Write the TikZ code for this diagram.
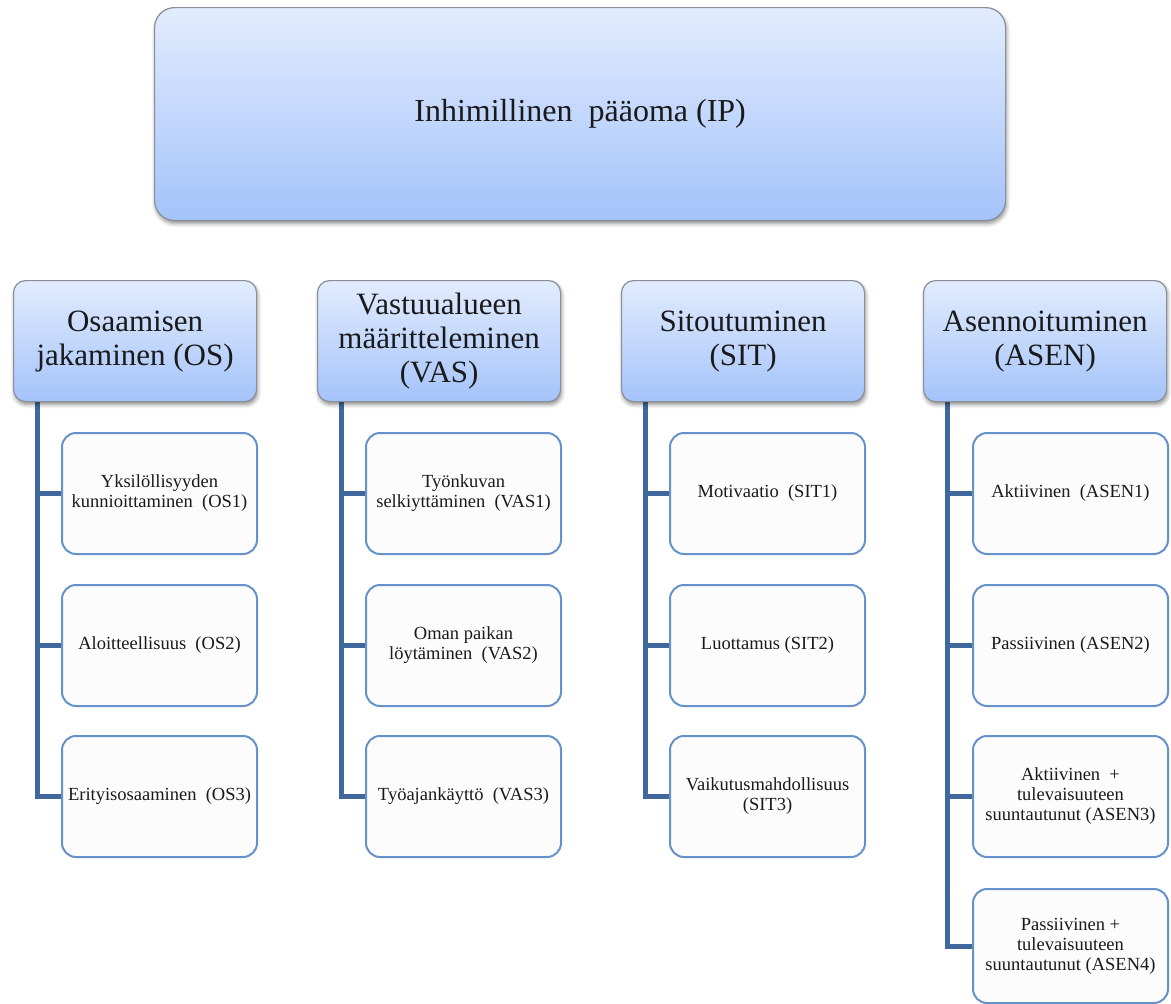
\documentclass[tikz,border=0pt]{standalone}
\usepackage{fontspec}
\setmainfont{Liberation Serif}
\usetikzlibrary{shadows.blur,backgrounds}
\definecolor{gtop}{HTML}{E2ECFE}
\definecolor{gbot}{HTML}{A4C3FA}
\definecolor{gborder}{HTML}{8A8E96}
\definecolor{cborder}{HTML}{6692CB}
\definecolor{conn}{HTML}{41689C}
\definecolor{txt}{HTML}{1A1A1A}
\definecolor{cfill}{HTML}{FCFCFC}
\tikzset{
  topbox/.style={draw=gborder, line width=1.2pt, rounded corners=20pt, top color=gtop, bottom color=gbot,
    anchor=north west, inner sep=0pt, minimum width=851pt, minimum height=213pt, align=center,
    text=txt, font=\fontsize{32}{37}\selectfont,
    blur shadow={shadow xshift=1pt, shadow yshift=-3pt, shadow blur radius=4pt, shadow opacity=45}},
  catbox/.style={draw=gborder, line width=1.2pt, rounded corners=12pt, top color=gtop, bottom color=gbot,
    anchor=north west, inner sep=0pt, minimum width=243pt, minimum height=121pt, align=center,
    text=txt, font=\fontsize{31}{34}\selectfont,
    blur shadow={shadow xshift=1pt, shadow yshift=-3pt, shadow blur radius=4pt, shadow opacity=45}},
  itembox/.style={draw=cborder, line width=2pt, rounded corners=14pt, fill=cfill,
    anchor=north west, inner sep=0pt, minimum width=195pt, minimum height=121pt, align=center,
    text=txt, font=\fontsize{18.5}{20}\selectfont},
  link/.style={draw=conn, line width=5pt}
}
\begin{document}
\begin{tikzpicture}[x=1pt,y=-1pt]
\useasboundingbox (0,0) rectangle (1171,1004);
\node[topbox] (ip) at (154,7) {Inhimillinen\ \ pääoma (IP)};

\node[catbox] (os) at (13,280) {Osaamisen\\jakaminen (OS)};
\node[catbox] (vas) at (317,280) {Vastuualueen\\määritteleminen\\(VAS)};
\node[catbox] (sit) at (621,280) {Sitoutuminen\\(SIT)};
\node[catbox] (asen) at (923,280) {Asennoituminen\\(ASEN)};

\node[itembox] (os1) at (61,432) {Yksilöllisyyden\\kunnioittaminen\ \ (OS1)};
\node[itembox] (os2) at (61,584) {Aloitteellisuus\ \ (OS2)};
\node[itembox] (os3) at (61,735) {Erityisosaaminen\ \ (OS3)};

\node[itembox] (vas1) at (365,432) {Työnkuvan\\selkiyttäminen\ \ (VAS1)};
\node[itembox] (vas2) at (365,584) {Oman paikan\\löytäminen\ \ (VAS2)};
\node[itembox] (vas3) at (365,735) {Työajankäyttö\ \ (VAS3)};

\node[itembox] (sit1) at (669,432) {Motivaatio\ \ (SIT1)};
\node[itembox] (sit2) at (669,584) {Luottamus (SIT2)};
\node[itembox] (sit3) at (669,735) {Vaikutusmahdollisuus\\(SIT3)};

\node[itembox] (asen1) at (972,432) {Aktiivinen\ \ (ASEN1)};
\node[itembox] (asen2) at (972,584) {Passiivinen (ASEN2)};
\node[itembox] (asen3) at (972,735) {Aktiivinen\ \ +\\tulevaisuuteen\\suuntautunut (ASEN3)};
\node[itembox, minimum height=114pt] (asen4) at (972,888) {Passiivinen +\\tulevaisuuteen\\suuntautunut (ASEN4)};

\begin{pgfonlayer}{background}
\foreach \p/\c in {os/os1,os/os2,os/os3,vas/vas1,vas/vas2,vas/vas3,sit/sit1,sit/sit2,sit/sit3,asen/asen1,asen/asen2,asen/asen3,asen/asen4}{
  \draw[link] ([xshift=24pt]\p.south west) |- (\c.west);
}
\end{pgfonlayer}
\end{tikzpicture}
\end{document}
